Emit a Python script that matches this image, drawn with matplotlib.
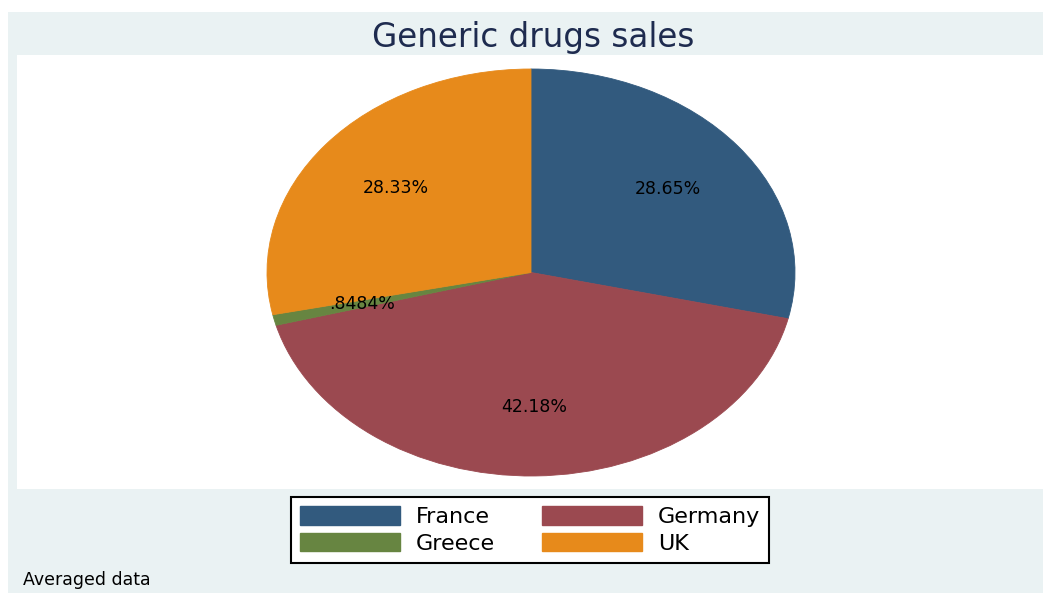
import matplotlib
matplotlib.use("Agg")
import matplotlib.pyplot as plt
from matplotlib.patches import Rectangle, Patch

# ---- data ----
countries = ["France", "Germany", "Greece", "UK"]
shares = [28.65, 42.18, 0.8484, 28.33]
pct_labels = ["28.65%", "42.18%", ".8484%", "28.33%"]
colors = ["#325A7E", "#9B4950", "#678541", "#E78A1B"]
title = "Generic drugs sales"
note = "Averaged data"

W, H = 1043, 593
fig = plt.figure(figsize=(W / 100, H / 100), dpi=100)
fig.patch.set_facecolor("white")
plt.rcParams["font.family"] = ["DejaVu Sans"]

def fx(px):
    return px / W

def fy(py):
    return 1 - py / H

# outer light background
fig.patches.append(Rectangle((fx(8), 0), 1 - fx(8), fy(12), transform=fig.transFigure,
                             facecolor="#EAF2F3", edgecolor="none", zorder=-2))
# white plot region
fig.patches.append(Rectangle((fx(17), fy(489)), 1 - fx(17), fy(55) - fy(489),
                             transform=fig.transFigure, facecolor="white",
                             edgecolor="none", zorder=-1))

# pie axes (stretched ellipse)
ax = fig.add_axes([fx(267), fy(476), fx(795) - fx(267), fy(69) - fy(476)])
ax.set_zorder(1)
wedges, texts = ax.pie(shares, colors=colors, startangle=90, counterclock=False,
                       labels=pct_labels, labeldistance=0.66,
                       wedgeprops=dict(linewidth=0.6),
                       textprops=dict(fontsize=12.5, color="black"))
for w, c in zip(wedges, colors):
    w.set_edgecolor(c)
for t in texts:
    t.set_ha("center")
    t.set_va("center")
ax.set_aspect("auto")
ax.set_xlim(-1, 1)
ax.set_ylim(-1, 1)
ax.axis("off")

# title
fig.text(fx(533), fy(37), title, ha="center", va="center", fontsize=23.5, color="#1E2B4F")

# legend (row-wise order: France, Germany / Greece, UK)
handles = [Patch(facecolor=c, edgecolor=c) for c in colors]
order = [0, 2, 1, 3]
leg = fig.legend([handles[i] for i in order], [countries[i] for i in order],
                 ncol=2, loc="center",
                 bbox_to_anchor=(fx(530), fy(530)), fontsize=16,
                 frameon=True, fancybox=False, edgecolor="black", framealpha=1,
                 handlelength=4.5, handleheight=0.9, handletextpad=0.72,
                 columnspacing=2.1, labelspacing=0.25, borderpad=0.42,
                 borderaxespad=0)
leg.get_frame().set_linewidth(1.5)
leg.get_frame().set_facecolor("white")

# note
fig.text(fx(23), fy(580), note, ha="left", va="center", fontsize=12.5, color="black")

fig.savefig("out.png", dpi=100, facecolor=fig.get_facecolor())
